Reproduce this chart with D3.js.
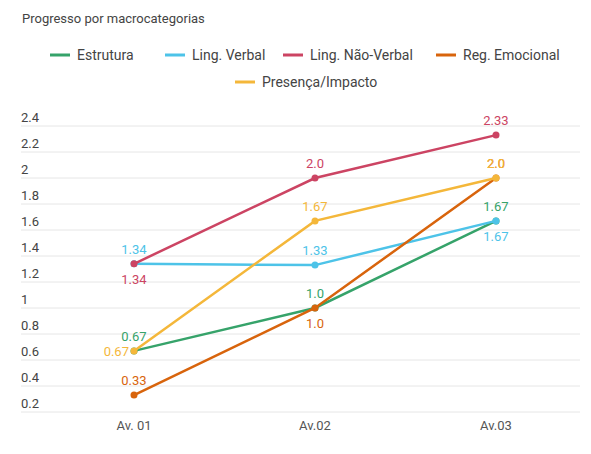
<!DOCTYPE html><html><head><meta charset="utf-8"><script src="https://cdn.jsdelivr.net/npm/d3@7"></script>
<style>body{margin:0;background:#fff}text{font-family:Roboto,sans-serif}</style></head><body><svg id="c" width="591" height="454"></svg>
<script>
const categories=["Av. 01","Av.02","Av.03"];
const seriesNames=["Estrutura","Ling. Verbal","Ling. Não-Verbal","Reg. Emocional","Presença/Impacto"];
const colors=["#36a36a","#4dc3e8","#cc4463","#d8640c","#f4b73a"];
const estrutura=[0.67,1.0,1.67];
const lingVerbal=[1.34,1.33,1.67];
const lingNaoVerbal=[1.34,2.0,2.33];
const regEmocional=[0.33,1.0,2.0];
const presenca=[0.67,1.67,2.0];
const labelText=[["0.67","1.0","1.67"],["1.34","1.33","1.67"],["1.34","2.0","2.33"],["0.33","1.0","2.0"],["0.67","1.67","2.0"]];
// label placement: u=up,d=down,l=left
const labelPos=[["u","u","u"],["u","u","d"],["d","u","u"],["u","d","u"],["l","u","u"]];
const yTicks=[0.2,0.4,0.6,0.8,1,1.2,1.4,1.6,1.8,2,2.2,2.4];
const data=[estrutura,lingVerbal,lingNaoVerbal,regEmocional,presenca];
const svg=d3.select("#c");
const x=d3.scalePoint().domain(categories).range([134,496]);
const y=d3.scaleLinear().domain([0.2,2.4]).range([412,126]);
svg.append("text").attr("x",22).attr("y",23).attr("font-size",13).attr("fill","#444").text("Progresso por macrocategorias");
const g=svg.append("g");
yTicks.forEach(t=>{
 g.append("line").attr("x1",21).attr("x2",580).attr("y1",y(t)).attr("y2",y(t)).attr("stroke","#e6e6e6");
 g.append("text").attr("x",21).attr("y",y(t)-4).attr("font-size",13).attr("fill","#444").text(d3.format("")(t));
});
categories.forEach(c=>svg.append("text").attr("x",x(c)).attr("y",430).attr("text-anchor","middle").attr("font-size",13).attr("fill","#555").text(c));
// legend
const leg=[[50,55],[165,55],[283,55],[436,55],[235,82]];
seriesNames.forEach((n,i)=>{
 svg.append("line").attr("x1",leg[i][0]).attr("x2",leg[i][0]+20).attr("y1",leg[i][1]).attr("y2",leg[i][1]).attr("stroke",colors[i]).attr("stroke-width",3);
 svg.append("text").attr("x",leg[i][0]+27).attr("y",leg[i][1]+5).attr("font-size",14).attr("fill","#444").text(n);
});
const line=d3.line().x((d,i)=>x(categories[i])).y(d=>y(d));
data.forEach((s,i)=>{
 svg.append("path").attr("d",line(s)).attr("fill","none").attr("stroke",colors[i]).attr("stroke-width",2.5);
 s.forEach((v,j)=>{
  svg.append("circle").attr("cx",x(categories[j])).attr("cy",y(v)).attr("r",3.5).attr("fill",colors[i]);
  const p=labelPos[i][j];
  let tx=x(categories[j]),ty=y(v)-10,a="middle";
  if(p=="d")ty=y(v)+20; if(p=="l"){tx-=5;ty=y(v)+5;a="end";}
  svg.append("text").attr("x",tx).attr("y",ty).attr("text-anchor",a).attr("font-size",13).attr("fill",colors[i]).text(labelText[i][j]);
 });
});
</script></body></html>
